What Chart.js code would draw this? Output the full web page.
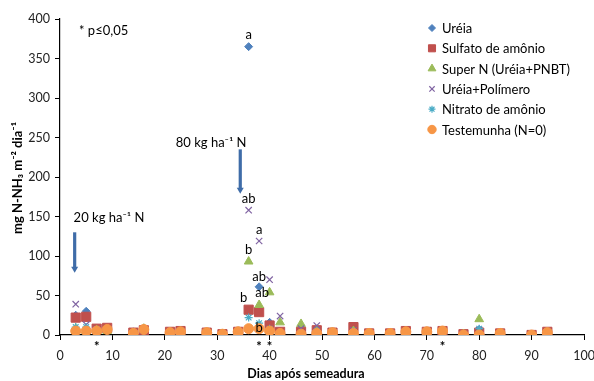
<!DOCTYPE html>
<html><head><meta charset="utf-8">
<script src="https://cdn.jsdelivr.net/npm/chart.js@4.4.1/dist/chart.umd.min.js"></script>
<style>html,body{margin:0;padding:0;background:#fff;}#wrap{width:594px;height:381px;position:relative;}</style>
</head><body><div id="wrap"><canvas id="c" width="594" height="381"></canvas></div>
<script>
const days = [3,5,7,9,14,16,21,23,28,31,34,36,38,40,42,46,49,52,56,59,63,66,70,73,77,80,84,90,93];
const seriesNames = ["Uréia","Sulfato de amônio","Super N (Uréia+PNBT)","Uréia+Polímero","Nitrato de amônio","Testemunha (N=0)"];
const ureia      = [25,30,7,7,4,6,4,5,3,1,4,365,61,16,4,3,4,3,5,2,2,4,3,5,1,7,2,0,4];
const sulfato    = [22,23,8,9,3,6,4,5,3,1,4,32,29,12,4,4,6,3,10,2,2,5,4,5,1,3,2,0,4];
const superN     = [8,5,6,5,2,8,3,4,3,1,4,93,38,54,16,14,6,3,5,2,2,4,4,5,1,20,2,0,3];
const polimero   = [39,13,7,7,3,6,4,5,3,1,4,158,119,70,24,8,12,3,6,2,2,4,3,5,1,6,2,0,4];
const nitrato    = [10,10,6,6,3,6,4,5,3,1,4,22,15,8,3,3,4,3,4,2,2,4,-2,5,1,8,2,0,4];
const testemunha = [5,5,5,7,2,7,3,4,3,1,4,8,8,5,2,1,2,3,2,2,2,4,4,5,0,0,2,0,3];
const xTicks = [0,10,20,30,40,50,60,70,80,90,100];
const yTicks = [0,50,100,150,200,250,300,350,400];
const letters = [ {d:36,v:365,t:"a"},{d:36,v:158,t:"ab"},{d:38,v:119,t:"a"},{d:36,v:93,t:"b"},{d:38,v:61,t:"ab"},{d:36,v:32,t:"b"},{d:38,v:38,t:"ab"},{d:38,v:8,t:"b"} ];
const starDays = [7,38,40,73];
const arrows = [ {d:2.8,from:130,to:80,label:"20 kg ha⁻¹ N",ld:2.6,lv:148,align:"left"}, {d:34.4,from:235,to:180,label:"80 kg ha⁻¹ N",ld:35.6,lv:243,align:"right"} ];

const FONT = "Lato, 'Open Sans', sans-serif";
const colors = ["#4F81BD","#C0504D","#9BBB59","#8064A2","#4BACC6","#F79646"];
const styles = ["rectRot","rect","triangle","crossRot","star","circle"];
const radii = [4,6.5,5,4.5,4,5];
const legendRadii = [3.5,5,4.5,3.8,3.5,4.2];
const all = [ureia,sulfato,superN,polimero,nitrato,testemunha];

const datasets = all.map((arr,i)=>({
  label: seriesNames[i],
  data: days.map((d,j)=>({x:d,y:arr[j]})),
  pointStyle: styles[i],
  pointRadius: radii[i],
  pointHoverRadius: radii[i],
  backgroundColor: colors[i],
  borderColor: colors[i],
  pointBorderWidth: (styles[i]==="crossRot"||styles[i]==="star")?1.2:1,
  showLine:false,
  order: 5-i
}));

const overlay = {
  id:'overlay',
  afterDraw(chart){
    const ctx = chart.ctx, xs = chart.scales.x, ys = chart.scales.y;
    ctx.save();
    ctx.fillStyle = "#000";
    ctx.font = "13px "+FONT;
    ctx.textAlign = "center"; ctx.textBaseline = "bottom";
    letters.forEach((L,k)=>{
      let x = xs.getPixelForValue(L.d), y = ys.getPixelForValue(L.v);
      if(k===5){ x -= 5; }
      if(k===6){ x += 3; y -= 1; }
      if(k===7){ y += 11; }
      if(k===4){ y += 2; }
      ctx.fillText(L.t, x, y - 5);
    });
    ctx.font = "bold 13px "+FONT; ctx.textBaseline="top";
    starDays.forEach(d=>{ ctx.fillText("*", xs.getPixelForValue(d), ys.getPixelForValue(0)+5); });
    ctx.font = "13px "+FONT; ctx.textAlign="left"; ctx.textBaseline="middle";
    ctx.fillText("* p≤0,05", 79, 31);
    arrows.forEach(A=>{
      const x = xs.getPixelForValue(A.d), y1 = ys.getPixelForValue(A.from), y2 = ys.getPixelForValue(A.to);
      ctx.strokeStyle = "#3F6CA8"; ctx.fillStyle="#3F6CA8"; ctx.lineWidth = 3.2;
      ctx.beginPath(); ctx.moveTo(x,y1); ctx.lineTo(x,y2-4); ctx.stroke();
      ctx.beginPath(); ctx.moveTo(x-3.5,y2-5); ctx.lineTo(x+3.5,y2-5); ctx.lineTo(x,y2+1); ctx.closePath(); ctx.fill();
      ctx.fillStyle="#000"; ctx.font="13px "+FONT; ctx.textAlign=A.align; ctx.textBaseline="middle";
      ctx.fillText(A.label, xs.getPixelForValue(A.ld), ys.getPixelForValue(A.lv));
    });
    const lx = 432, ly0 = 28, lstep = 20.3;
    chart.data.datasets.forEach((ds,i)=>{
      const y = ly0 + i*lstep;
      ctx.fillStyle = ds.backgroundColor; ctx.strokeStyle = ds.borderColor; ctx.lineWidth = ds.pointBorderWidth;
      Chart.helpers.drawPoint(ctx, {pointStyle: ds.pointStyle, radius: legendRadii[i], borderWidth: ds.pointBorderWidth, rotation:0}, lx, y);
      ctx.fillStyle = "#000"; ctx.font="13px "+FONT; ctx.textAlign="left"; ctx.textBaseline="middle";
      ctx.fillText(ds.label, lx+10, y+1);
    });
    ctx.fillStyle="#000"; ctx.font = "bold 12.5px "+FONT; ctx.textAlign="center"; ctx.textBaseline="alphabetic";
    ctx.fillText("Dias após semeadura", 306, 378);
    ctx.save();
    ctx.translate(22, (ys.top+ys.bottom)/2 + 1);
    ctx.rotate(-Math.PI/2);
    ctx.font = "bold 13px "+FONT; ctx.textBaseline="alphabetic";
    ctx.fillText("mg N-NH₃ m⁻² dia⁻¹", 0, 0);
    ctx.restore();
    ctx.restore();
  }
};

new Chart(document.getElementById('c'), {
  type:'scatter',
  data:{datasets},
  options:{
    responsive:false, animation:false, devicePixelRatio:1,
    layout:{padding:{left:0,right:10,top:19,bottom:0}},
    plugins:{legend:{display:false}, tooltip:{enabled:false}},
    scales:{
      x:{type:'linear', min:0, max:100,
         afterBuildTicks(s){ s.ticks = xTicks.map(v=>({value:v})); },
         afterFit(s){ s.height = 46; s.paddingLeft = 0; s.paddingRight = 0; },
         grid:{drawOnChartArea:false, drawTicks:true, tickLength:5, color:"#000"},
         border:{display:true,color:"#000",width:1.2},
         ticks:{font:{family:FONT,size:12.5}, color:"#222", padding:8, maxRotation:0}},
      y:{type:'linear', min:0, max:400,
         afterBuildTicks(s){ s.ticks = yTicks.map(v=>({value:v})); },
         afterFit(s){ s.width = 60; s.paddingTop = 0; s.paddingBottom = 0; },
         grid:{drawOnChartArea:false, drawTicks:true, tickLength:5, color:"#000"},
         border:{display:true,color:"#000",width:1.2},
         ticks:{font:{family:FONT,size:12.5}, color:"#222", padding:5}}
    }
  },
  plugins:[overlay]
});
</script></body></html>
